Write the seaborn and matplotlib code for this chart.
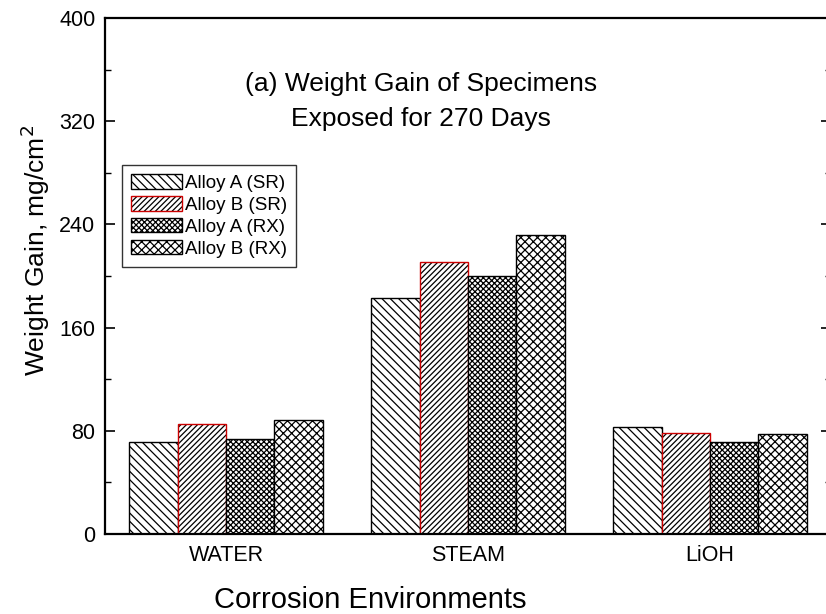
import matplotlib
matplotlib.use("Agg")
import matplotlib.pyplot as plt
from matplotlib.ticker import MultipleLocator
import seaborn as sns
import pandas as pd

environments = ["WATER", "STEAM", "LiOH"]
series = ["Alloy A (SR)", "Alloy B (SR)", "Alloy A (RX)", "Alloy B (RX)"]
alloy_a_sr = [71.5, 183, 83]
alloy_b_sr = [85, 211, 78]
alloy_a_rx = [73.5, 200, 71]
alloy_b_rx = [88, 231.5, 77.5]
hatches = ["\\\\\\\\", "//////", "xxxxxx", "xxxx"]
edges = ["black", "#cc0000", "black", "black"]

rows = []
for name, vals in zip(series, [alloy_a_sr, alloy_b_sr, alloy_a_rx, alloy_b_rx]):
    for env, v in zip(environments, vals):
        rows.append({"env": env, "series": name, "value": v})
df = pd.DataFrame(rows)

sns.set_theme(style="white")
plt.rcParams["font.family"] = ["Liberation Sans", "DejaVu Sans"]
plt.rcParams["hatch.linewidth"] = 0.9
plt.rcParams["text.color"] = "black"
plt.rcParams["axes.labelcolor"] = "black"
plt.rcParams["xtick.color"] = "black"
plt.rcParams["ytick.color"] = "black"

fig = plt.figure(figsize=(8.26, 6.14), dpi=100)
ax = fig.add_axes([105/826, 1 - 534/614, 726/826, 516/614])

sns.barplot(data=df, x="env", y="value", hue="series", order=environments,
            hue_order=series, palette=["white"] * 4, width=0.8,
            edgecolor="black", linewidth=1.0, legend=False, ax=ax, errorbar=None)

for cont, h, ec in zip(ax.containers, hatches, edges):
    for p in cont.patches:
        p.set_hatch(h)
        p.set_edgecolor(ec)
        p._hatch_color = (0, 0, 0, 1)

ax.set_xlim(-0.5, 2.5)
ax.set_ylim(0, 400)
ax.yaxis.set_major_locator(MultipleLocator(80))
ax.yaxis.set_minor_locator(MultipleLocator(40))
ax.tick_params(axis="y", which="major", direction="in", length=7, width=1.2,
               left=True, right=True, labelsize=15.5, pad=7)
ax.tick_params(axis="y", which="minor", direction="in", length=4, width=1.0,
               left=True, right=True)
ax.tick_params(axis="x", length=0, labelsize=15.5, pad=8)

for s in ["left", "bottom", "top", "right"]:
    ax.spines[s].set_linewidth(1.6)
    ax.spines[s].set_color("black")

ax.set_xlabel("Corrosion Environments", fontsize=21, labelpad=14, x=0.365)
ax.set_ylabel("Weight Gain, mg/cm$^2$", fontsize=19, labelpad=5, y=0.55)

ax.text(0.435, 0.838, "(a) Weight Gain of Specimens\nExposed for 270 Days",
        transform=ax.transAxes, ha="center", va="center", fontsize=19,
        linespacing=1.55)

handles = [c.patches[0] for c in ax.containers]
leg = ax.legend(handles, series, loc="upper left", bbox_to_anchor=(0.023, 0.715),
                fontsize=13.5, frameon=True, fancybox=False, edgecolor="black",
                handlelength=2.7, handleheight=0.8, handletextpad=0.15,
                labelspacing=0.22, borderpad=0.5, borderaxespad=0)
leg.get_frame().set_linewidth(1.0)

fig.savefig("out.png", dpi=100)
